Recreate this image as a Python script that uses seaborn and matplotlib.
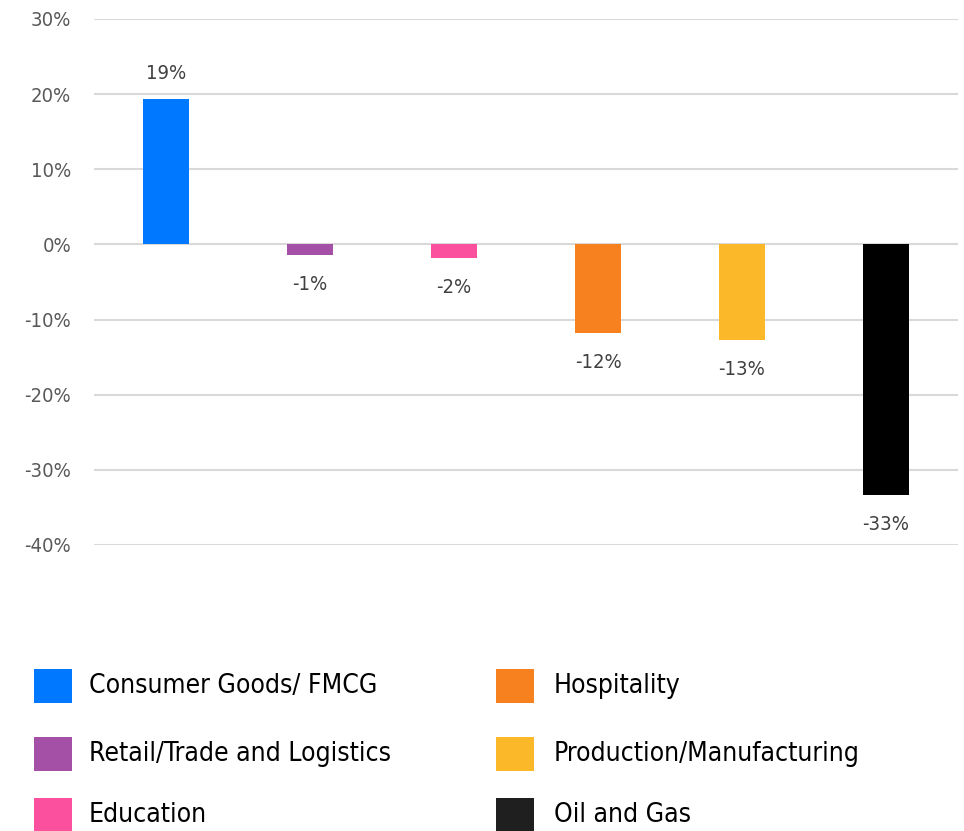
import matplotlib
matplotlib.use("Agg")
import matplotlib.pyplot as plt
import seaborn as sns
from matplotlib.patches import Rectangle
from matplotlib.ticker import PercentFormatter

categories = ["Consumer Goods/ FMCG", "Retail/Trade and Logistics", "Education",
              "Hospitality", "Production/Manufacturing", "Oil and Gas"]
values = [0.193, -0.014, -0.018, -0.118, -0.127, -0.334]
bar_labels = ["19%", "-1%", "-2%", "-12%", "-13%", "-33%"]
colors = ["#0078FF", "#A450A6", "#FA509E", "#F7811E", "#FBB829", "#000000"]
y_ticks = [-0.4, -0.3, -0.2, -0.1, 0.0, 0.1, 0.2, 0.3]

sns.set_style("white")
plt.rcParams["font.family"] = ["DejaVu Sans"]
plt.rcParams["axes.unicode_minus"] = False

W, H = 964, 831
fig = plt.figure(figsize=(W / 100, H / 100), dpi=100)
ax = fig.add_axes([94 / W, 1 - 545 / H, 864 / W, (545 - 19) / H])

sns.barplot(x=categories, y=values, hue=categories, palette=colors, dodge=False,
            width=0.32, saturation=1, legend=False, linewidth=0, ax=ax)

ax.set_xlim(-0.5, 5.5)
ax.set_ylim(-0.40, 0.30)
ax.set_yticks(y_ticks)
ax.yaxis.set_major_formatter(PercentFormatter(1.0, decimals=0))
ax.set_xticks([])
ax.set_xlabel("")
ax.set_ylabel("")
ax.yaxis.grid(True, color="#D9D9D9", linewidth=1.5)
ax.set_axisbelow(True)
for s in ax.spines.values():
    s.set_visible(False)
ax.tick_params(axis="y", length=0, pad=16.5, labelsize=14.5, labelcolor="#595959")
for t in ax.get_yticklabels():
    t.set_fontstretch("condensed")

# value labels above / below bars
for i, (v, lab) in enumerate(zip(values, bar_labels)):
    off = 18.7 if v > 0 else -21
    ax.annotate(lab, (i, v), xytext=(0, off), textcoords="offset points",
                ha="center", va="center", fontsize=14.5, color="#404040",
                fontstretch="condensed")

# legend, two columns of three
patch_x = [34, 496]
text_x = [89, 554]
row_y = [686, 754, 815]
for i, (cat, c) in enumerate(zip(categories, colors)):
    col, row = i // 3, i % 3
    fc = "#1F1F1F" if c == "#000000" else c
    fig.add_artist(Rectangle((patch_x[col] / W, 1 - (row_y[row] + 17) / H), 38 / W, 34 / H,
                             transform=fig.transFigure, color=fc, lw=0))
    fig.text(text_x[col] / W, 1 - row_y[row] / H, cat, ha="left", va="center",
             fontsize=19, color="#000000", fontstretch="condensed")

fig.savefig("out.png", dpi=100)
